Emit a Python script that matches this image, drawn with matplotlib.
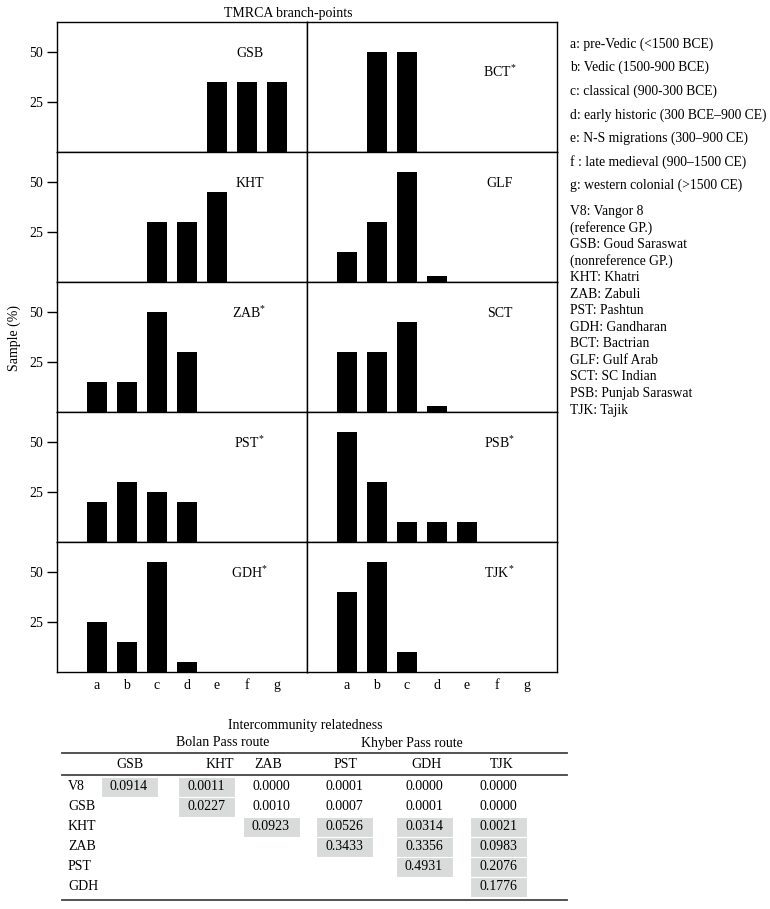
import numpy as np
import matplotlib.pyplot as plt

plt.rcParams['font.family'] = ['Liberation Serif', 'DejaVu Serif']
plt.rcParams['mathtext.fontset'] = 'custom'
plt.rcParams['mathtext.rm'] = 'Liberation Serif'
plt.rcParams['mathtext.it'] = 'Liberation Serif:italic'

# TMRCA branch-point categories
periods = ['a', 'b', 'c', 'd', 'e', 'f', 'g']
period_names = ['a: pre-Vedic (<1500 BCE)',
                'b: Vedic (1500-900 BCE)',
                'c: classical (900-300 BCE)',
                'd: early historic (300 BCE\u2013900 CE)',
                'e: N-S migrations (300\u2013900 CE)',
                'f : late medieval (900\u20131500 CE)',
                'g: western colonial (>1500 CE)']
community_names = ['V8: Vangor 8', '(reference GP.)',
                   'GSB: Goud Saraswat', '(nonreference GP.)',
                   'KHT: Khatri', 'ZAB: Zabuli', 'PST: Pashtun',
                   'GDH: Gandharan', 'BCT: Bactrian', 'GLF: Gulf Arab',
                   'SCT: SC Indian', 'PSB: Punjab Saraswat', 'TJK: Tajik']

# sample (%) per branch-point a..g
gsb = [0, 0, 0, 0, 35, 35, 35]
bct = [0, 50, 50, 0, 0, 0, 0]
kht = [0, 0, 30, 30, 45, 0, 0]
glf = [15, 30, 55, 3, 0, 0, 0]
zab = [15, 15, 50, 30, 0, 0, 0]
sct = [30, 30, 45, 3, 0, 0, 0]
pst = [20, 30, 25, 20, 0, 0, 0]
psb = [55, 30, 10, 10, 10, 0, 0]
gdh = [25, 15, 55, 5, 0, 0, 0]
tjk = [40, 55, 10, 0, 0, 0, 0]

# panel label, significance star, values
left_panels = [('GSB', False, gsb), ('KHT', False, kht), ('ZAB', True, zab),
               ('PST', True, pst), ('GDH', True, gdh)]
right_panels = [('BCT', True, bct), ('GLF', False, glf), ('SCT', False, sct),
                ('PSB', True, psb), ('TJK', True, tjk)]

# intercommunity relatedness (upper triangle)
table_rows = ['V8', 'GSB', 'KHT', 'ZAB', 'PST', 'GDH']
table_cols = ['GSB', 'KHT', 'ZAB', 'PST', 'GDH', 'TJK']
rel_v8 = ['0.0914', '0.0011', '0.0000', '0.0001', '0.0000', '0.0000']
rel_gsb = ['0.0227', '0.0010', '0.0007', '0.0001', '0.0000']
rel_kht = ['0.0923', '0.0526', '0.0314', '0.0021']
rel_zab = ['0.3433', '0.3356', '0.0983']
rel_pst = ['0.4931', '0.2076']
rel_gdh = ['0.1776']
rel_values = [rel_v8, rel_gsb, rel_kht, rel_zab, rel_pst, rel_gdh]
# shaded cells per row
shade_v8 = ['GSB', 'KHT']
shade_gsb = ['KHT']
shade_kht = ['ZAB', 'PST', 'GDH', 'TJK']
shade_zab = ['PST', 'GDH', 'TJK']
shade_pst = ['GDH', 'TJK']
shade_gdh = ['TJK']
shaded = [shade_v8, shade_gsb, shade_kht, shade_zab, shade_pst, shade_gdh]

W, H = 770, 909
fs = 10
fig = plt.figure(figsize=(W / 100, H / 100), dpi=100)

# pixel-space overlay for free text and the table
tax = fig.add_axes([0, 0, 1, 1])
tax.set_xlim(0, W)
tax.set_ylim(H, 0)
tax.axis('off')

x = np.arange(len(periods))
for col, panels in enumerate([left_panels, right_panels]):
    for row, (name, star, vals) in enumerate(panels):
        left = 57 + 250 * col
        top = 22 + 130 * row
        ax = fig.add_axes([left / W, 1 - (top + 130) / H, 250 / W, 130 / H])
        ax.bar(x, vals, width=0.67, color='black')
        ax.set_xlim(-1.33, 7.0)
        ax.set_ylim(0, 65)
        for s in ax.spines.values():
            s.set_linewidth(1.0)
        if col == 0:
            ax.set_yticks([25, 50])
            ax.tick_params(axis='y', length=7, width=1, labelsize=fs, pad=3)
        else:
            ax.set_yticks([])
        if row == 4:
            ax.set_xticks(x)
            ax.set_xticklabels(periods, fontsize=fs)
            ax.tick_params(axis='x', length=0, pad=5)
        else:
            ax.set_xticks([])
        label = r'$\mathrm{%s}^{*}$' % name if star else name
        ly = 0.615 if name == 'BCT' else 0.76
        ax.text(0.77, ly, label, transform=ax.transAxes, ha='center', va='center', fontsize=fs)

tax.text(288, 13, 'TMRCA branch-points', ha='center', va='center', fontsize=fs)
tax.text(14, 338, 'Sample (%)', ha='center', va='center', rotation=90, fontsize=fs)

# legend text on the right
for i, t in enumerate(period_names):
    tax.text(570, 44 + 23.6 * i, t, ha='left', va='center', fontsize=9.8)
for i, t in enumerate(community_names):
    tax.text(570, 211 + 16.6 * i, t, ha='left', va='center', fontsize=9.8)

# table
col_x = [129, 206, 271, 344, 424, 498]
head_x = [130, 220, 268, 345, 427, 502]
row_y0, row_step = 787, 20
tax.text(305, 725, 'Intercommunity relatedness', ha='center', va='center', fontsize=fs)
tax.text(223, 743, 'Bolan Pass route', ha='center', va='center', fontsize=fs)
tax.text(412, 743, 'Khyber Pass route', ha='center', va='center', fontsize=fs)
for yy in [753, 775, 900]:
    tax.plot([62, 567], [yy, yy], color='#444444', lw=1.3)
for j, c in enumerate(table_cols):
    tax.text(head_x[j], 764, c, ha='center', va='center', fontsize=fs)
for i, r in enumerate(table_rows):
    yy = row_y0 + row_step * i
    tax.text(68, yy, r, ha='left', va='center', fontsize=fs)
    for k, v in enumerate(rel_values[i]):
        j = i + k
        cname = table_cols[j]
        if cname in shaded[i]:
            tax.add_patch(plt.Rectangle((col_x[j] - 28.5, yy - 10), 57, 20,
                                        facecolor='#d9dbdb', edgecolor='white', lw=0.8))
        tax.text(col_x[j], yy, v, ha='center', va='center', fontsize=fs)

fig.savefig('out.png', dpi=100)
